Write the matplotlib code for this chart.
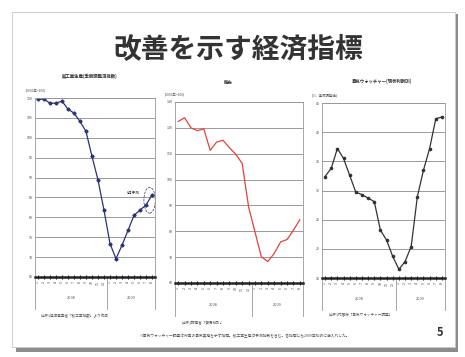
import matplotlib.pyplot as plt
from matplotlib.patches import Rectangle, Ellipse

plt.rcParams['font.family'] = ['Noto Sans CJK JP', 'DejaVu Sans']

# 2008/1 - 2009/8, monthly
months = [1, 2, 3, 4, 5, 6, 7, 8, 9, 10, 11, 12, 1, 2, 3, 4, 5, 6, 7, 8]
years = ["2008", "2009"]

production = [109.7, 109.7, 108.7, 108.7, 109.2, 107.2, 106.2, 104.1, 101.6, 95.3,
              89.4, 81.8, 73.4, 69.6, 73.0, 76.7, 80.5, 81.8, 83.1, 85.6]
exports = [122.5, 123.9, 120.0, 118.9, 119.6, 111.3, 114.5, 115.2, 112.3, 109.8,
           106.2, 89.4, 79.7, 70.1, 68.3, 71.4, 75.9, 76.8, 80.4, 84.5]
watchers = [32.4, 33.8, 37.2, 35.5, 32.6, 29.7, 29.3, 28.7, 28.1, 23.2,
            21.5, 18.7, 16.5, 17.8, 20.4, 28.9, 33.5, 37.2, 42.3, 42.6]

prod_ticks = list(range(65, 111, 5))
exp_ticks = list(range(60, 131, 10))
dw_ticks = list(range(15, 46, 5))

W, H = 465, 357
fig = plt.figure(figsize=(W / 100, H / 100), dpi=100)
fig.patch.set_facecolor('white')


def box(x0, y0, x1, y1):
    # pixel box (top-left origin) -> figure fraction rect
    return [x0 / W, 1 - y1 / H, (x1 - x0) / W, (y1 - y0) / H]


# slide with shadow
fig.patches.append(Rectangle((16 / W, 1 - 352 / H), 442 / W, 338 / H,
                             transform=fig.transFigure, facecolor='#8c8c8c',
                             edgecolor='none', zorder=-3))
fig.patches.append(Rectangle((12 / W, 1 - 347 / H), 443 / W, 335 / H,
                             transform=fig.transFigure, facecolor='white',
                             edgecolor='#c8c8c8', lw=0.6, zorder=-2))

fig.text(238 / W, 1 - 50 / H, "改善を示す経済指標", ha='center', va='center',
         fontsize=20, fontweight='bold', color='#333333')

panels = [
    dict(rect=box(35, 98, 155, 277), data=production, ticks=prod_ticks,
         color='#2a3278', marker='D', title="鉱工業生産(季節調整済指数)",
         unit="(2005年=100)", src="(出所)経済産業省「鉱工業指数」より作成", tx=90, ty=76),
    dict(rect=box(175, 102, 303, 283), data=exports, ticks=exp_ticks,
         color='#e8403a', marker=None, title="輸出",
         unit="(2005年=100)", src="(出所)財務省「貿易統計」", tx=228, ty=83),
    dict(rect=box(322, 103, 445, 278), data=watchers, ticks=dw_ticks,
         color='#333333', marker='o', title="景気ウォッチャー(現状判断DI)",
         unit="(DI、季節調整値)", src="(出所)内閣府「景気ウォッチャー調査」", tx=382, ty=81),
]

n = len(months)
for p in panels:
    ax = fig.add_axes(p['rect'])
    ax.set_zorder(1)
    ax.patch.set_alpha(0)
    x = list(range(n))
    ax.plot(x, p['data'], color=p['color'], lw=0.9,
            marker=p['marker'], ms=1.6, mfc=p['color'], mec=p['color'])
    ax.set_xlim(-0.5, n - 0.5)
    ax.set_ylim(p['ticks'][0], p['ticks'][-1])
    ax.set_yticks(p['ticks'])
    ax.set_yticklabels([str(t) for t in p['ticks']], fontsize=2.6, color='#444444')
    ax.yaxis.grid(True, color='#8a8a8a', lw=0.6)
    ax.set_axisbelow(True)
    ax.tick_params(axis='y', length=0, pad=1.5)
    ax.set_xticks(x)
    ax.set_xticklabels([str(m) for m in months], fontsize=2.6, rotation=90,
                       color='#444444')
    ax.tick_params(axis='x', length=3.5, width=0.8, pad=0.8, direction='inout',
                   color='#222222')
    for s in ['top', 'right', 'left']:
        ax.spines[s].set_color('#999999')
        ax.spines[s].set_linewidth(0.6)
    ax.spines['bottom'].set_linewidth(1.8)
    ax.spines['bottom'].set_color('#222222')

    # multi-level category axis: extended verticals and year separator
    ext = -0.18
    sep = 12 / n
    for xa in (0, sep, 1):
        ax.plot([xa, xa], [0, ext], transform=ax.transAxes, color='#999999',
                lw=0.6, clip_on=False)
    ax.text(sep / 2, -0.12, years[0], transform=ax.transAxes, fontsize=2.8,
            ha='center', va='center', color='#555555')
    ax.text((1 + sep) / 2, -0.12, years[1], transform=ax.transAxes, fontsize=2.8,
            ha='center', va='center', color='#555555')
    ax.text(0.05, -0.215, p['src'], transform=ax.transAxes, fontsize=2.6,
            ha='left', va='center', color='#555555')
    ax.text(-0.08, 1.03, p['unit'], transform=ax.transAxes, fontsize=2.4,
            ha='left', va='bottom', color='#555555')
    fig.text(p['tx'] / W, 1 - p['ty'] / H, p['title'], fontsize=3.2,
             ha='center', va='center', color='#333333', fontweight='bold')
    p['ax'] = ax

# forecast marker on the production chart
ax1 = panels[0]['ax']
ax1.add_patch(Ellipse((18.6, 84.3), 1.9, 6.5, fill=False, ls='--', lw=0.5,
                      ec='#2a3278', clip_on=False))
ax1.text(16.9, 86.2, "8月予測", fontsize=2.6, ha='right', va='center',
         color='#333333')

fig.text(245 / W, 1 - 336 / H,
         "※景気ウォッチャー調査は街角の景気実感を示す指標。鉱工業生産は予測指数を含む。各指標とも2009年初めに底入れした。",
         fontsize=2.7, ha='center', va='center', color='#555555')
fig.text(440 / W, 1 - 332 / H, "5", fontsize=8, fontweight='bold',
         ha='center', va='center', color='#333333')

fig.savefig('out.png', dpi=100, facecolor=fig.get_facecolor())
